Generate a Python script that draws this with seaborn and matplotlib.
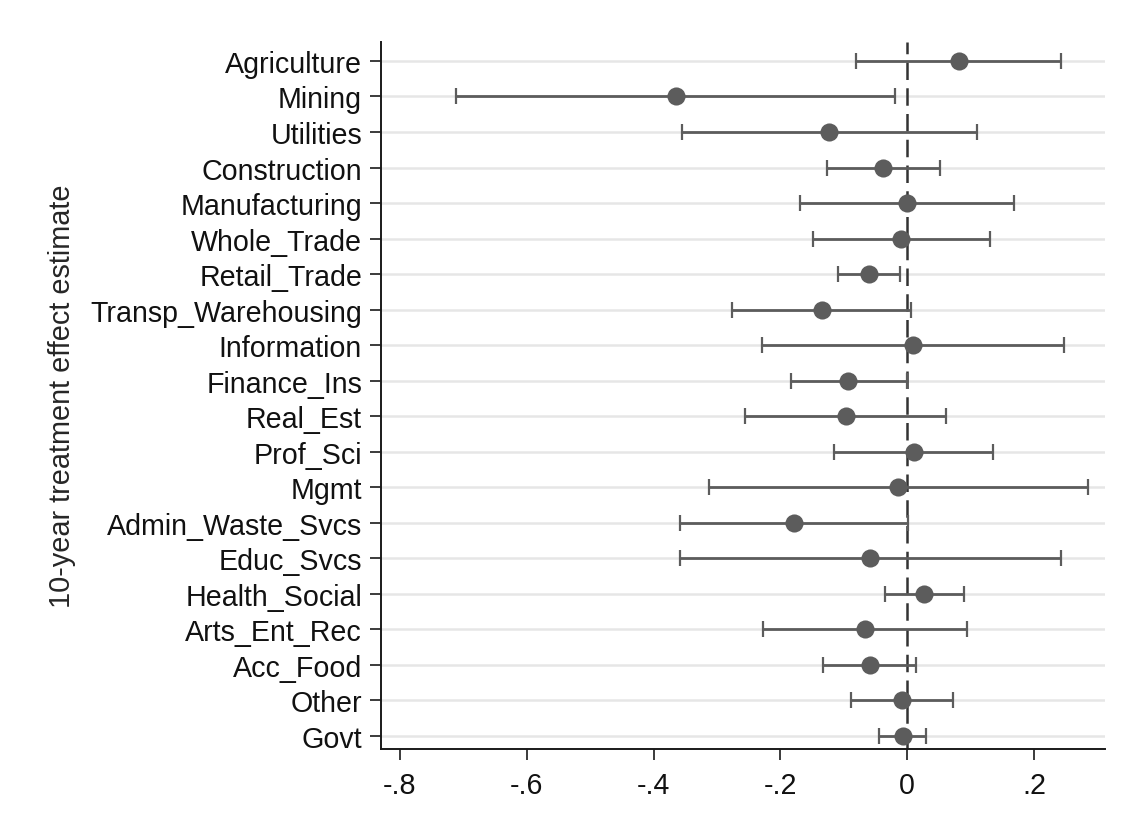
import numpy as np
import pandas as pd
import matplotlib
matplotlib.use("Agg")
import matplotlib.pyplot as plt
import seaborn as sns

# Industry-level 10-year treatment effect estimates with 95% confidence bounds
industries = [
    "Agriculture", "Mining", "Utilities", "Construction", "Manufacturing",
    "Whole_Trade", "Retail_Trade", "Transp_Warehousing", "Information",
    "Finance_Ins", "Real_Est", "Prof_Sci", "Mgmt", "Admin_Waste_Svcs",
    "Educ_Svcs", "Health_Social", "Arts_Ent_Rec", "Acc_Food", "Other", "Govt",
]
estimate = [0.082, -0.365, -0.123, -0.038, 0.000, -0.009, -0.060, -0.135,
            0.009, -0.093, -0.096, 0.011, -0.014, -0.179, -0.059, 0.027,
            -0.066, -0.059, -0.008, -0.007]
ci_low = [-0.080, -0.711, -0.355, -0.127, -0.169, -0.148, -0.109, -0.277,
          -0.229, -0.183, -0.255, -0.115, -0.313, -0.359, -0.358, -0.035,
          -0.227, -0.133, -0.088, -0.045]
ci_high = [0.243, -0.019, 0.110, 0.052, 0.169, 0.131, -0.011, 0.006,
           0.247, -0.001, 0.061, 0.135, 0.285, 0.002, 0.242, 0.090,
           0.094, 0.014, 0.073, 0.029]
x_ticks = [-0.8, -0.6, -0.4, -0.2, 0.0, 0.2]
x_ticklabels = ["-.8", "-.6", "-.4", "-.2", "0", ".2"]

df = pd.DataFrame({"industry": industries, "estimate": estimate,
                   "lo": ci_low, "hi": ci_high})

sns.set_theme(style="white")
plt.rcParams["font.family"] = ["Liberation Sans", "DejaVu Sans"]

fig = plt.figure(figsize=(11.23, 8.29), dpi=100)
ax = fig.add_axes([0.3397, 0.0953, 0.984 - 0.3397, 0.948 - 0.0953])

mark_color = "#5c5c5c"

# horizontal reference grid at every industry
for ypos in range(len(industries)):
    ax.axhline(ypos, color="#e6e6e6", lw=1.8, zorder=0)

# zero line
ax.axvline(0, color="#333333", lw=1.8, dashes=(7, 3.3), zorder=1)

# confidence intervals
ypos = np.arange(len(df))
ax.errorbar(x=df["estimate"], y=ypos,
            xerr=[df["estimate"] - df["lo"], df["hi"] - df["estimate"]],
            fmt="none", ecolor=mark_color, elinewidth=2.0, capsize=5.5,
            capthick=1.6, zorder=2)

# point estimates
sns.scatterplot(data=df.assign(pos=ypos), x="estimate", y="pos", ax=ax,
                color=mark_color, s=170, edgecolor=mark_color, linewidth=0,
                zorder=3, legend=False)

ax.set_yticks(ypos)
ax.set_yticklabels(industries)
ax.set_ylim(19.37, -0.53)
ax.set_xlim(-0.829, 0.312)
ax.set_xticks(x_ticks)
ax.set_xticklabels(x_ticklabels)

ax.set_xlabel("")
ax.set_ylabel("10-year treatment effect estimate", fontsize=20.8, labelpad=10)

for side in ["top", "right"]:
    ax.spines[side].set_visible(False)
for side in ["left", "bottom"]:
    ax.spines[side].set_color("#1a1a1a")
    ax.spines[side].set_linewidth(1.4)

ax.tick_params(axis="y", left=True, length=8, width=1.2, color="#1a1a1a",
               labelsize=20.6, pad=6, labelcolor="#111111")
ax.tick_params(axis="x", bottom=True, length=8, width=1.2, color="#1a1a1a",
               labelsize=20.6, pad=8, labelcolor="#111111")

fig.savefig("out.png", dpi=100, facecolor="white")
